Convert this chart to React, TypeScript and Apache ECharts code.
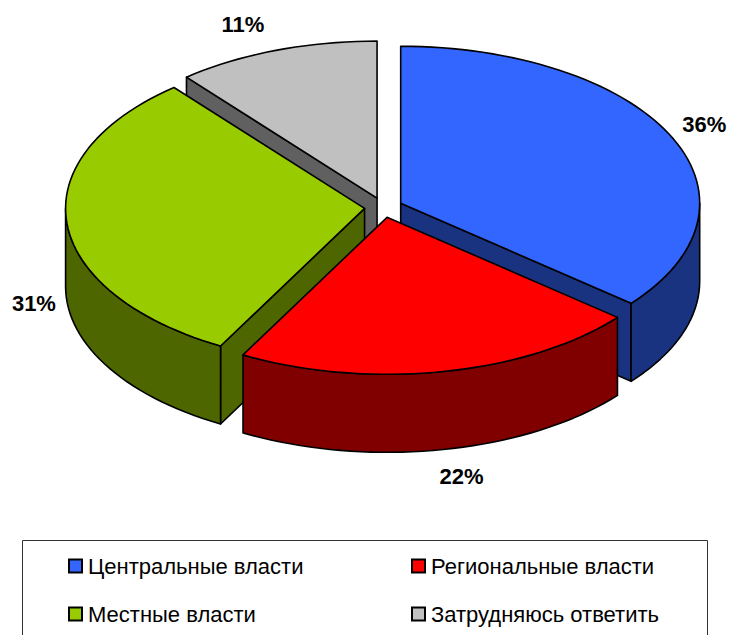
import React, { useEffect, useRef } from "react";
import * as echarts from "echarts";

const CATEGORIES = ["Центральные власти", "Региональные власти", "Местные власти", "Затрудняюсь ответить"];
const VALUES = [36, 22, 31, 11];
const TOP_COLORS = ["#3366FF", "#FF0000", "#99CC00", "#C0C0C0"];
const SIDE_COLORS = ["#1A3380", "#800000", "#4D6600", "#606060"];

// layout constants (pixels)
const CX = 383.5;
const CY = 207.5;
const RX = 299;
const RY = 157;
const DEPTH = 78;
const EXPLODE = 19;
const LABEL_DX = 33;
const LABEL_DY = 27;
const FONT = '"Liberation Sans", Arial, Helvetica, sans-serif';

const TOTAL = VALUES.reduce((a, b) => a + b, 0);

function sliceAngles(i: number) {
  let start = 0;
  for (let k = 0; k < i; k++) start += VALUES[k];
  const a0 = (start / TOTAL) * Math.PI * 2;
  const a1 = ((start + VALUES[i]) / TOTAL) * Math.PI * 2;
  return { a0, a1, mid: (a0 + a1) / 2 };
}

function depthRank(i: number) {
  const depths = VALUES.map((_, k) => -Math.cos(sliceAngles(k).mid));
  const order = depths.map((d, k) => ({ d, k })).sort((a, b) => a.d - b.d).map((o) => o.k);
  return order.indexOf(i);
}

function edge(cx: number, cy: number, t: number, dy = 0): number[] {
  return [cx + RX * Math.sin(t), cy - RY * Math.cos(t) + dy];
}

function arc(cx: number, cy: number, s: number, e: number, dy = 0): number[][] {
  const n = Math.max(2, Math.ceil((Math.abs(e - s) / Math.PI) * 180 / 2));
  const pts: number[][] = [];
  for (let j = 0; j <= n; j++) {
    const t = s + ((e - s) * j) / n;
    pts.push(edge(cx, cy, t, dy));
  }
  return pts;
}

function makeRenderItem(i: number) {
  return (params: any, api: any) => {
    const { a0, a1, mid } = sliceAngles(i);
    const cx = CX + EXPLODE * Math.sin(mid);
    const cy = CY - EXPLODE * (RY / RX) * Math.cos(mid);
    const base = depthRank(i) * 10;
    const lineStyle = { stroke: "#000", lineWidth: 1.6, lineJoin: "round" };
    const children: any[] = [];
    // radial faces
    if (Math.sin(a0) < -1e-6) {
      const p = edge(cx, cy, a0);
      children.push({
        type: "polygon",
        z2: base,
        shape: { points: [[cx, cy], p, [p[0], p[1] + DEPTH], [cx, cy + DEPTH]] },
        style: { fill: SIDE_COLORS[i], ...lineStyle },
      });
    }
    if (Math.sin(a1) > 1e-6) {
      const p = edge(cx, cy, a1);
      children.push({
        type: "polygon",
        z2: base,
        shape: { points: [[cx, cy], p, [p[0], p[1] + DEPTH], [cx, cy + DEPTH]] },
        style: { fill: SIDE_COLORS[i], ...lineStyle },
      });
    }
    // outer side (front part only)
    const s = Math.max(a0, Math.PI / 2);
    const e = Math.min(a1, (Math.PI * 3) / 2);
    if (e > s) {
      const top = arc(cx, cy, s, e);
      const bottom = arc(cx, cy, e, s, DEPTH);
      children.push({
        type: "polygon",
        z2: base + 1,
        shape: { points: top.concat(bottom) },
        style: { fill: SIDE_COLORS[i], ...lineStyle },
      });
    }
    // top face
    children.push({
      type: "polygon",
      z2: base + 2,
      shape: { points: [[cx, cy]].concat(arc(cx, cy, a0, a1)) },
      style: { fill: TOP_COLORS[i], ...lineStyle },
    });
    // label
    const value = api.value(0);
    const sn = Math.sin(mid);
    const cs = Math.cos(mid);
    const anchor = edge(cx, cy, mid, cs < 0 ? DEPTH : 0);
    const lx = anchor[0] + LABEL_DX * Math.sign(sn) * Math.min(1, Math.abs(sn) * 3);
    const ly = anchor[1] - LABEL_DY * cs;
    children.push({
      type: "text",
      z2: 100,
      x: lx,
      y: ly,
      style: {
        text: Math.round((value / TOTAL) * 100) + "%",
        fill: "#000",
        font: `bold 22px ${FONT}`,
        textAlign: "center",
        textVerticalAlign: "middle",
        verticalAlign: "middle",
      },
    });
    return { type: "group", children };
  };
}

export default function App() {
  const ref = useRef<HTMLDivElement>(null);
  useEffect(() => {
    document.body.style.margin = "0";
    if (!ref.current) return;
    const chart = echarts.init(ref.current, undefined, { renderer: "svg" });
    const series: any[] = CATEGORIES.map((name, i) => ({
      type: "custom",
      name,
      coordinateSystem: "none",
      data: [[VALUES[i]]],
      itemStyle: { color: TOP_COLORS[i] },
      renderItem: makeRenderItem(i),
      silent: true,
    }));
    chart.setOption({
      animation: false,
      backgroundColor: "#fff",
      textStyle: { fontFamily: FONT },
      legend: {
        data: CATEGORIES,
        orient: "horizontal",
        left: 68,
        top: 554,
        width: 670,
        padding: 0,
        itemGap: 24,
        itemWidth: 13,
        itemHeight: 13,
        icon: "rect",
        selectedMode: false,
        itemStyle: { borderColor: "#000", borderWidth: 2 },
        textStyle: {
          fontFamily: FONT,
          fontSize: 22,
          color: "#000",
          width: 299,
          lineHeight: 24,
          padding: [0, 0, 0, 1],
        },
      },
      graphic: [
        {
          type: "rect",
          shape: { x: 22.5, y: 540.5, width: 685, height: 140 },
          style: { fill: "none", stroke: "#333", lineWidth: 1 },
          silent: true,
        },
      ],
      series,
    });
    return () => chart.dispose();
  }, []);
  return <div ref={ref} style={{ width: 732, height: 635 }} />;
}
